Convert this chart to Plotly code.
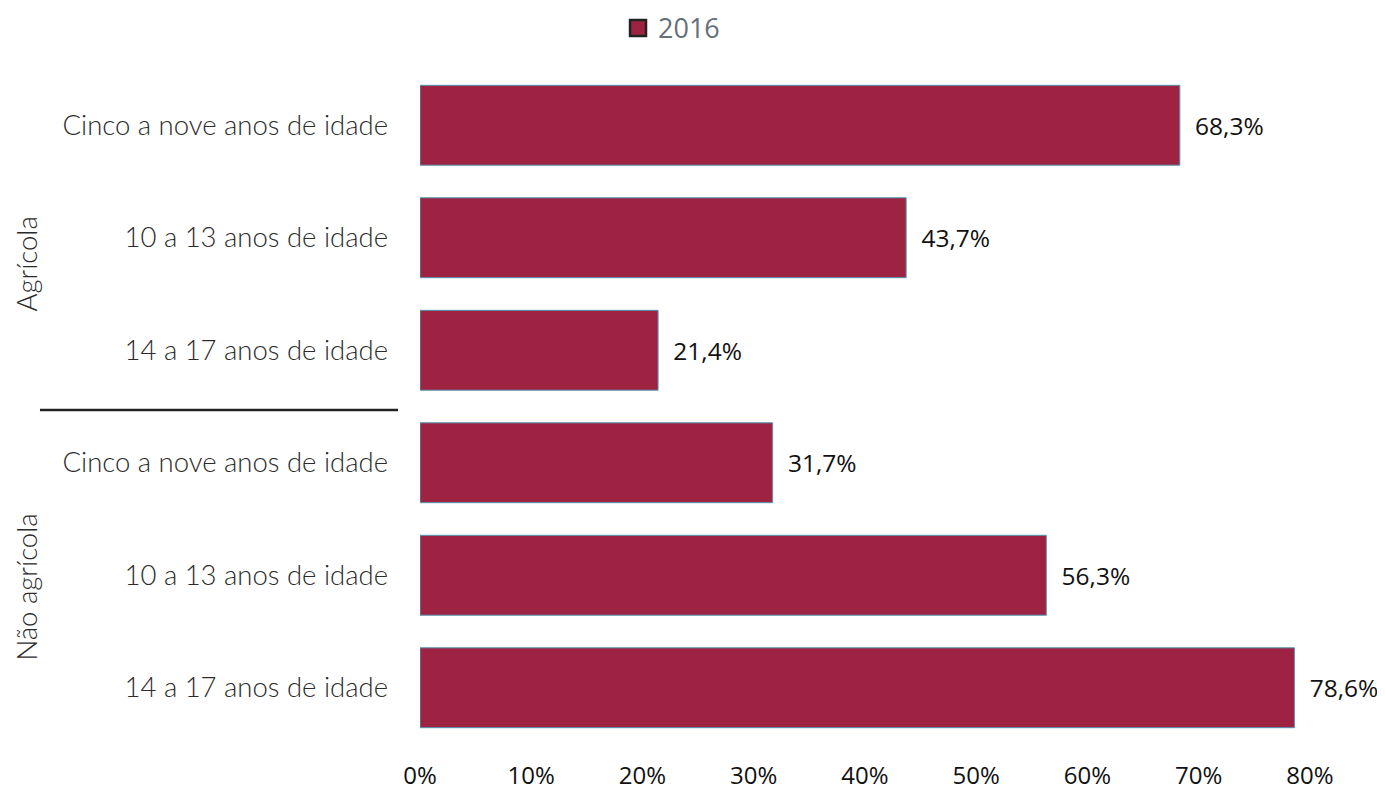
import plotly.graph_objects as go

groups = ["Agrícola", "Não agrícola"]
categories = [
    "Cinco a nove anos de idade",
    "10 a 13 anos de idade",
    "14 a 17 anos de idade",
    "Cinco a nove anos de idade",
    "10 a 13 anos de idade",
    "14 a 17 anos de idade",
]
values_2016 = [0.683, 0.437, 0.214, 0.317, 0.563, 0.786]
x_ticks = [0, 0.1, 0.2, 0.3, 0.4, 0.5, 0.6, 0.7, 0.8]
series_name = "2016"

positions = list(range(len(categories)))

label_font = dict(family="Lato", size=27.5, color="#2b2b2b", weight=300)

fig = go.Figure()
fig.add_trace(go.Bar(
    x=values_2016,
    y=positions,
    orientation="h",
    marker=dict(color="#9e2241", line=dict(color="#4d9bb3", width=1)),
    texttemplate="\u2002%{x:.1%}",
    textposition="outside",
    constraintext="none",
    cliponaxis=False,
    textfont=dict(family="Open Sans", size=24.5, color="#111111"),
    showlegend=False,
    hoverinfo="skip",
))
# legend entry
fig.add_trace(go.Scatter(
    x=[None], y=[None], mode="markers", name=series_name,
    marker=dict(symbol="square", size=22, color="#9e2241",
                line=dict(color="#222222", width=2.5)),
))

fig.update_layout(
    width=1377, height=782,
    margin=dict(l=412, r=75, t=61, b=46, autoexpand=False),
    plot_bgcolor="white", paper_bgcolor="white",
    separators=",.",
    bargap=0.29,
    legend=dict(orientation="h", x=0.443, xref="container", xanchor="left",
                y=0.974, yref="container", yanchor="middle",
                font=dict(family="Open Sans", size=27, color="#66707a"),
                itemwidth=30),
    xaxis=dict(range=[0, 0.8], tickvals=x_ticks, tickformat=".0%",
               showgrid=False, zeroline=False, showline=False, automargin=False,
               tickfont=dict(family="Open Sans", size=24, color="#111111"),
               ticklabelstandoff=15),
    yaxis=dict(range=[5.5, -0.5], tickvals=positions, ticktext=categories,
               showgrid=False, zeroline=False, showline=False, automargin=False,
               tickfont=label_font, ticklabelstandoff=31),
)

fig.add_annotation(text=groups[0], xref="paper", yref="y", x=-0.4416, y=1.23,
                   xanchor="center", yanchor="middle",
                   textangle=-90, showarrow=False, font=label_font)
fig.add_annotation(text=groups[1], xref="paper", yref="y", x=-0.4416, y=4.1,
                   xanchor="center", yanchor="middle",
                   textangle=-90, showarrow=False, font=label_font)
fig.add_shape(type="line", xref="paper", yref="y", x0=-0.427, x1=-0.0247,
              y0=2.53, y1=2.53, line=dict(color="#222222", width=2.5))

fig.write_html("out.html")
